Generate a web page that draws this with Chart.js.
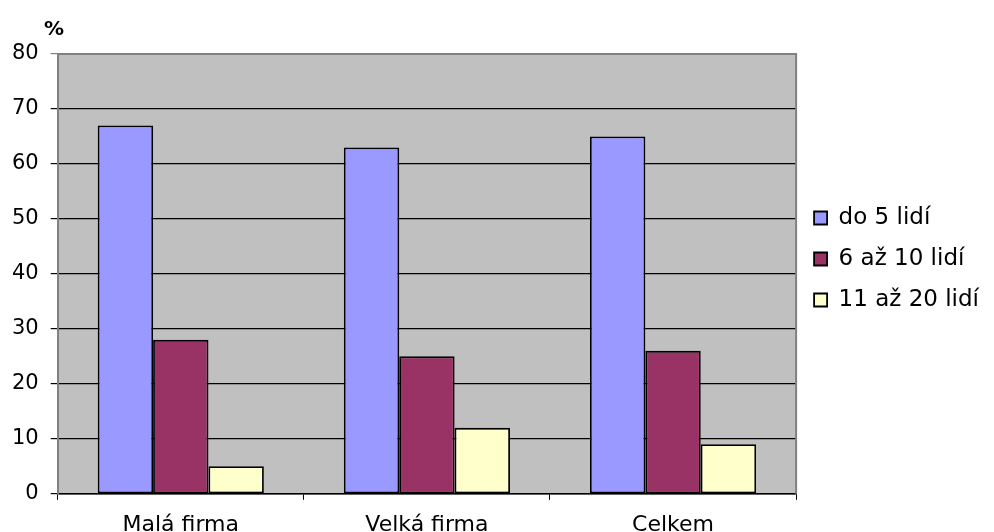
<!DOCTYPE html>
<html>
<head>
<meta charset="utf-8">
<script src="https://cdn.jsdelivr.net/npm/chart.js@4/dist/chart.umd.min.js"></script>
<style>
html,body{margin:0;padding:0;background:#fff;}
#wrap{width:994px;height:532px;}
</style>
</head>
<body>
<div id="wrap"><canvas id="chartFirmy"></canvas></div>
<script>
const categories = ["Malá firma", "Velká firma", "Celkem"];
const seriesNames = ["do 5 lidí", "6 až 10 lidí", "11 až 20 lidí"];
const doPet = [67, 63, 65];
const sestAzDeset = [28, 25, 26];
const jedenactAzDvacet = [5, 12, 9];
const colors = ["#9999FF", "#993366", "#FFFFCC"];

const family = "'DejaVu Sans', Arial, sans-serif";
const legendCenterY = 259;

// gray plot background, gray top/right border, "%" label
const plotFrame = {
  id: "plotFrame",
  afterLayout(chart){
    // legend sits a bit above the middle of the plot
    const lg = chart.legend;
    const shift = legendCenterY - (lg.top + lg.bottom) / 2;
    lg.top += shift;
    lg.bottom += shift;
  },
  beforeDraw(chart){
    const {ctx, chartArea: a} = chart;
    ctx.save();
    ctx.fillStyle = "#C0C0C0";
    ctx.fillRect(a.left, a.top, a.right - a.left, a.bottom - a.top);
    ctx.restore();
  },
  afterDraw(chart){
    const {ctx, chartArea: a} = chart;
    ctx.save();
    ctx.strokeStyle = "#808080";
    ctx.lineWidth = 2;
    ctx.beginPath();
    ctx.moveTo(a.left, a.top);
    ctx.lineTo(a.right, a.top);
    ctx.lineTo(a.right, a.bottom);
    ctx.stroke();
    ctx.fillStyle = "#000";
    ctx.font = "bold 20px " + family;
    ctx.textAlign = "left";
    ctx.textBaseline = "alphabetic";
    ctx.fillText("%", 44, 35);
    ctx.restore();
  }
};

const data = [doPet, sestAzDeset, jedenactAzDvacet];

new Chart(document.getElementById("chartFirmy"), {
  type: "bar",
  data: {
    labels: categories,
    datasets: seriesNames.map((name, i) => ({
      label: name,
      data: data[i],
      backgroundColor: colors[i],
      borderColor: "#000",
      borderWidth: 1.8,
      borderSkipped: false,
      categoryPercentage: 0.675,
      barPercentage: 1
    }))
  },
  options: {
    responsive: true,
    maintainAspectRatio: false,
    animation: false,
    layout: {padding: {top: 54, left: 0, right: 5, bottom: -18}},
    plugins: {
      tooltip: {enabled: false},
      legend: {
        position: "right",
        labels: {
          color: "#000",
          font: {family: family, size: 23},
          boxWidth: 13,
          boxHeight: 13,
          padding: 18
        }
      }
    },
    scales: {
      x: {
        grid: {
          offset: true,
          drawOnChartArea: false,
          color: "#000",
          tickLength: 6
        },
        border: {color: "#000", width: 1.5},
        ticks: {color: "#000", font: {family: family, size: 22, lineHeight: 1.1}, padding: 13}
      },
      y: {
        min: 0,
        max: 80,
        ticks: {stepSize: 10, color: "#000", font: {family: family, size: 21}, padding: 12},
        grid: {
          color: ctx => ctx.tick && ctx.tick.value === 80 ? "#808080" : "#000",
          lineWidth: 1.2,
          tickLength: 7
        },
        border: {color: "#808080", width: 2}
      }
    }
  },
  plugins: [plotFrame]
});
</script>
</body>
</html>
